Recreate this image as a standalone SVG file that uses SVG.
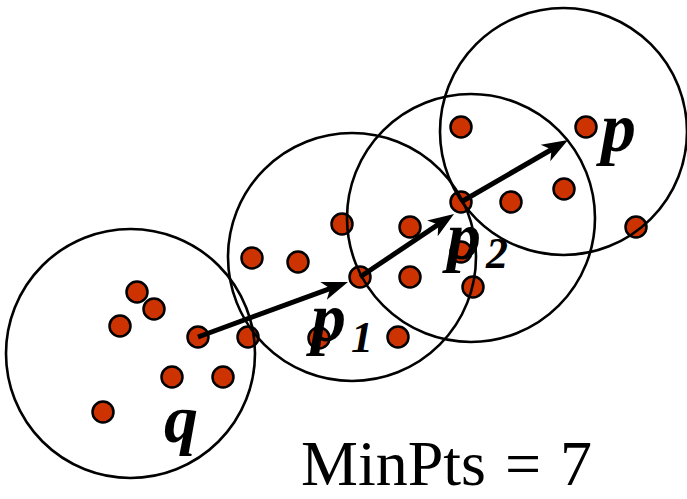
<svg xmlns="http://www.w3.org/2000/svg" width="687" height="499" viewBox="0 0 687 499">
<style>
.pt{fill:#CC3300;stroke:#000;stroke-width:2.5}
.nb{fill:none;stroke:#000;stroke-width:2.6}
.ar{fill:none;stroke:#000;stroke-width:5;marker-end:url(#head)}
.lb{font-family:"Liberation Serif","Times New Roman",serif;font-weight:bold;font-style:italic;fill:#000}
.sub{font-family:"Liberation Serif","Times New Roman",serif;font-style:italic;font-weight:bold;fill:#000}
.mp{font-family:"Liberation Serif","Times New Roman",serif;fill:#000}
</style>
<defs>
<marker id="head" markerUnits="userSpaceOnUse" viewBox="0 -12 28 24" refX="9" refY="0" markerWidth="28" markerHeight="24" orient="auto">
<path d="M0,-9.5 L26,0 L0,9.5 L7,0 Z" fill="#000"/>
</marker>
</defs>
<rect width="687" height="499" fill="#fff"/>
<g id="points">
<circle class="pt" cx="137" cy="292" r="10.5"/>
<circle class="pt" cx="154" cy="309" r="10.5"/>
<circle class="pt" cx="120" cy="326" r="10.5"/>
<circle class="pt" cx="198" cy="337" r="10.5"/>
<circle class="pt" cx="248" cy="337" r="10.5"/>
<circle class="pt" cx="172" cy="377" r="10.5"/>
<circle class="pt" cx="223" cy="377" r="10.5"/>
<circle class="pt" cx="103" cy="412" r="10.5"/>
<circle class="pt" cx="342" cy="224" r="10.5"/>
<circle class="pt" cx="252" cy="258" r="10.5"/>
<circle class="pt" cx="298" cy="262" r="10.5"/>
<circle class="pt" cx="360" cy="277" r="10.5"/>
<circle class="pt" cx="410" cy="227" r="10.5"/>
<circle class="pt" cx="410" cy="277" r="10.5"/>
<circle class="pt" cx="461" cy="252" r="10.5"/>
<circle class="pt" cx="473" cy="287" r="10.5"/>
<circle class="pt" cx="319" cy="338" r="10.5"/>
<circle class="pt" cx="398" cy="337" r="10.5"/>
<circle class="pt" cx="461" cy="127" r="10.5"/>
<circle class="pt" cx="586" cy="127" r="10.5"/>
<circle class="pt" cx="461" cy="202" r="10.5"/>
<circle class="pt" cx="511" cy="202" r="10.5"/>
<circle class="pt" cx="564" cy="189" r="10.5"/>
<circle class="pt" cx="636" cy="227" r="10.5"/>
</g>
<g id="nb-q"><circle class="nb" cx="130.5" cy="353.5" r="124.5"/></g>
<g id="nb-p1"><circle class="nb" cx="352" cy="257" r="124"/></g>
<g id="nb-p2"><circle class="nb" cx="471" cy="218" r="124"/></g>
<g id="nb-p"><circle class="nb" cx="563.5" cy="131.5" r="123.5"/></g>
<g id="connectors">
<line class="ar" x1="198" y1="337" x2="332.0" y2="287.8"/>
<line class="ar" x1="360" y1="277" x2="439.9" y2="223.4"/>
<line class="ar" x1="461" y1="202" x2="553.3" y2="148.5"/>
</g>
<g id="labels">
<text class="lb" x="164" y="442" font-size="68">q</text>
<text class="lb" x="601" y="151" font-size="70">p</text>
<text class="lb" x="311" y="341" font-size="70">p</text>
<text class="sub" x="351" y="352" font-size="44">1</text>
<text class="lb" x="447" y="259" font-size="68">p</text>
<text class="sub" x="486" y="268" font-size="44">2</text>
<text class="mp" x="301" y="485" font-size="64" word-spacing="3">MinPts = 7</text>
</g>
</svg>
